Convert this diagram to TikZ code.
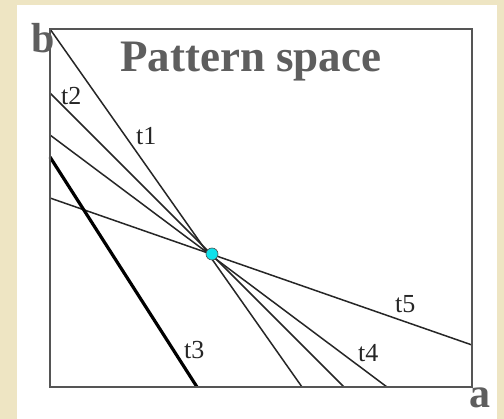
\documentclass[tikz,border=0pt]{standalone}
\usepackage{fontspec}
\setmainfont{Liberation Serif}
\definecolor{parch}{HTML}{EEE5C3}
\definecolor{titlegray}{HTML}{5E5E5E}
\definecolor{boxgray}{HTML}{555555}
\definecolor{dotcyan}{HTML}{10E0EA}
\begin{document}
\begin{tikzpicture}[x=1pt,y=-1pt,
  frame/.style={draw=boxgray,line width=1.6pt},
  tline/.style={draw=black!85,line width=1.5pt},
  thickline/.style={draw=black,line width=3.2pt},
  tlabel/.style={anchor=base west,inner sep=0pt,font=\fontsize{26}{26}\selectfont,text=black!85},
  axlabel/.style={anchor=base west,inner sep=0pt,font=\fontsize{42}{42}\selectfont\bfseries,text=titlegray},
  dot/.style={circle,fill=dotcyan,draw=black!70,line width=0.6pt,minimum size=12pt,inner sep=0pt}]
\useasboundingbox (0,0) rectangle (504,419);
\fill[parch] (0,0) rectangle (504,419);
\fill[white] (17,5) rectangle (497,419);
% box corners
\coordinate (tl) at (50,29);
\coordinate (tr) at (472,29);
\coordinate (bl) at (50,387);
\coordinate (br) at (472,387);
% line ends
\coordinate (t1a) at (50,29);   \coordinate (t1b) at (302,387);
\coordinate (t2a) at (50,93);   \coordinate (t2b) at (344,387);
\coordinate (t4a) at (50,135);  \coordinate (t4b) at (387,387);
\coordinate (t5a) at (50,198);  \coordinate (t5b) at (472,345);
\coordinate (t3a) at (50,157);  \coordinate (t3b) at (197,387);
\draw[tline] (t1a) -- (t1b);
\draw[tline] (t2a) -- (t2b);
\draw[tline] (t4a) -- (t4b);
\draw[tline] (t5a) -- (t5b);
\draw[thickline] (t3a) -- (t3b);
\draw[frame] (tl) -- (tr) -- (br) -- (bl) -- cycle;
\node[dot] (p) at (212,254) {};
\node[tlabel] (l1) at (136,145) {t1};
\node[tlabel] (l2) at (61,105) {t2};
\node[tlabel] (l3) at (184,359) {t3};
\node[tlabel] (l4) at (358,362) {t4};
\node[tlabel] (l5) at (395,313) {t5};
\node[axlabel] (b) at (31,53) {b};
\node[axlabel] (a) at (469,408) {a};
\node[axlabel,font=\fontsize{45}{45}\selectfont\bfseries] (title) at (120,72) {Pattern space};
\end{tikzpicture}
\end{document}
